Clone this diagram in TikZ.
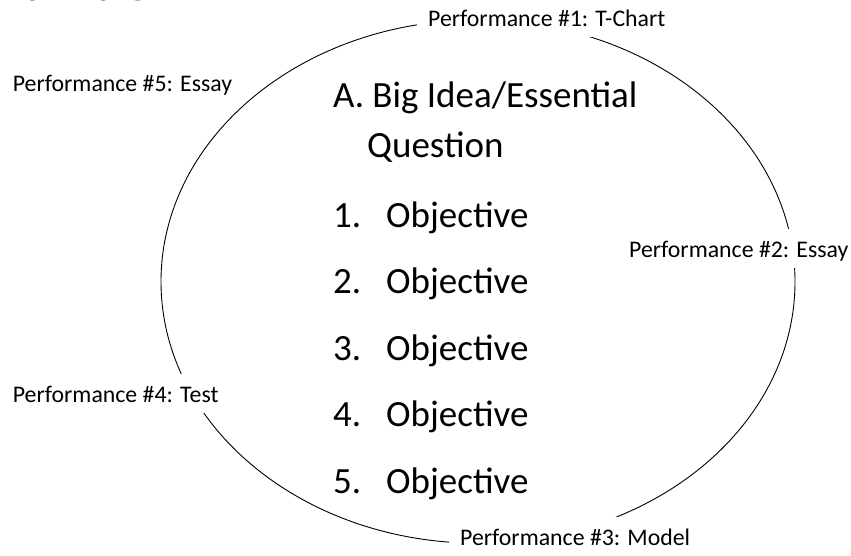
\documentclass[tikz,border=0pt]{standalone}
\usepackage{fontspec}
\setmainfont{Carlito}
\begin{document}
\begin{tikzpicture}[x=1pt,y=-1pt,
  perf/.style={fill=white,anchor=base west,inner xsep=11pt,inner ysep=5pt,
    text height=23pt,text depth=6pt,font=\fontsize{23.8}{28}\selectfont},
  body/.style={anchor=base west,inner sep=0pt,font=\fontsize{37}{44}\selectfont},
  ring/.style={draw=black,line width=0.9pt}]
\useasboundingbox (0,0) rectangle (851,555);
\clip (0,0) rectangle (851,555);
\fill[white] (0,0) rectangle (851,555);
\node[anchor=base west,inner sep=0pt,font=\fontsize{55}{60}\selectfont] (title) at (-55,0) {Unit Title};
\draw[ring] (478,281.6) ellipse [x radius=317, y radius=261.6];
\node[perf] (p1) at (417,26) {Performance \#1: T-Chart};
\node[perf] (p2) at (618,257) {Performance \#2: Essay};
\node[perf] (p3) at (449,545) {Performance \#3: Model};
\node[perf] (p4) at (1.7,402) {Performance \#4: Test};
\node[perf] (p5) at (1.7,91.7) {Performance \#5: Essay};
\node[body] (qa) at (333,107) {A. Big Idea/Essential};
\node[body] (qb) at (367,157) {Question};
\foreach \n/\b in {1/227,2/293.5,3/360,4/426.5,5/493}{
  \node[body] (n\n) at (333,\b) {\n.};
  \node[body] (o\n) at (386,\b) {Objective};
}
\end{tikzpicture}
\end{document}
